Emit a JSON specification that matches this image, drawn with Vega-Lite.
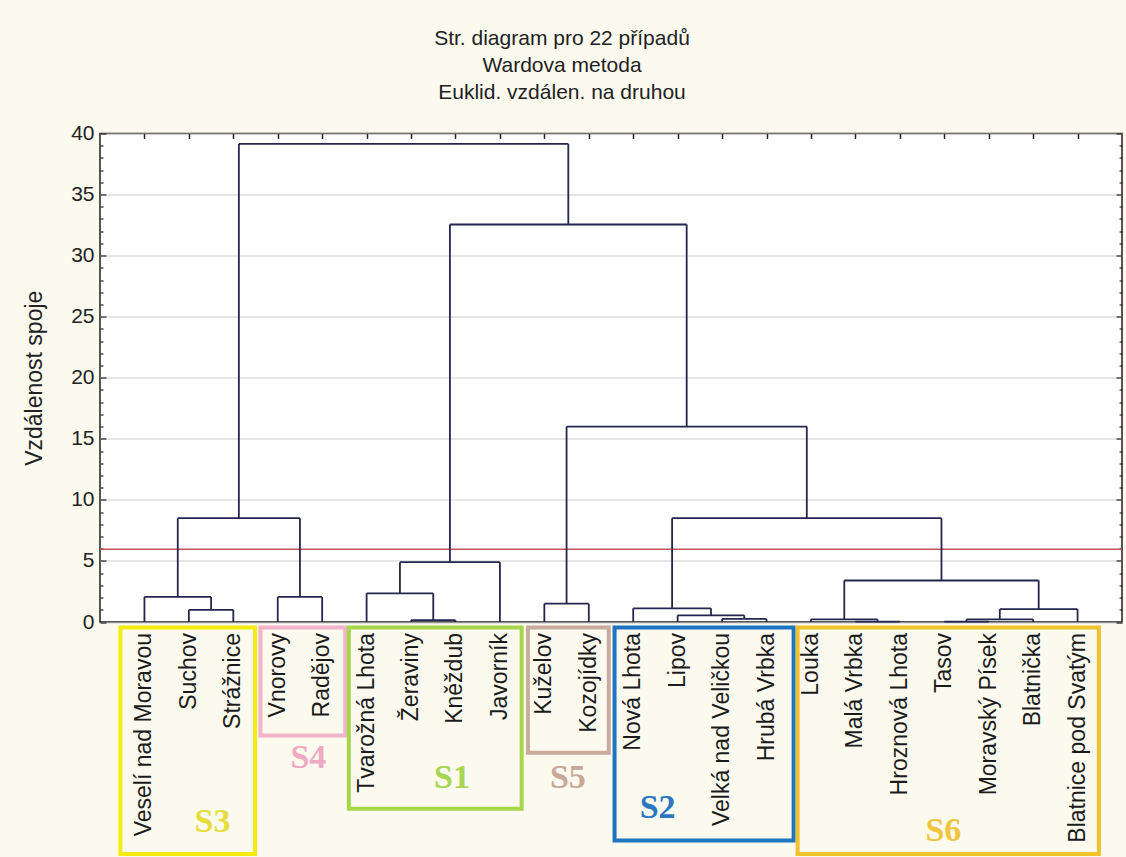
{
  "$schema": "https://vega.github.io/schema/vega-lite/v6.json",
  "width": 1022,
  "height": 488.5,
  "autosize": {"type": "none"},
  "padding": {"left": 100, "top": 133.5, "right": 4, "bottom": 235},
  "background": "#fcf9ee",
  "view": {"fill": "white", "stroke": "#1e1e1e", "strokeWidth": 1.5},
  "title": {
    "text": ["Str. diagram pro 22 případů", "Wardova metoda", "Euklid. vzdálen. na druhou"],
    "fontSize": 21, "font": "Liberation Sans", "fontWeight": "normal", "lineHeight": 27,
    "color": "#222222", "anchor": "middle", "dx": -49, "offset": 20
  },
  "datasets": {
    "cut": [{"h": 5.95}],
    "merges": [
      {"xl": 1, "xr": 2, "h": 1.0, "hl": 0, "hr": 0},
      {"xl": 0, "xr": 1.5, "h": 2.05, "hl": 0, "hr": 1.0},
      {"xl": 3, "xr": 4, "h": 2.05, "hl": 0, "hr": 0},
      {"xl": 0.75, "xr": 3.5, "h": 8.5, "hl": 2.05, "hr": 2.05},
      {"xl": 6, "xr": 7, "h": 0.15, "hl": 0, "hr": 0},
      {"xl": 5, "xr": 6.5, "h": 2.35, "hl": 0, "hr": 0.15},
      {"xl": 5.75, "xr": 8, "h": 4.9, "hl": 2.35, "hr": 0},
      {"xl": 9, "xr": 10, "h": 1.5, "hl": 0, "hr": 0},
      {"xl": 13, "xr": 14, "h": 0.25, "hl": 0, "hr": 0},
      {"xl": 12, "xr": 13.5, "h": 0.55, "hl": 0, "hr": 0.25},
      {"xl": 11, "xr": 12.75, "h": 1.12, "hl": 0, "hr": 0.55},
      {"xl": 16, "xr": 17, "h": 0.03, "hl": 0, "hr": 0},
      {"xl": 15, "xr": 16.5, "h": 0.22, "hl": 0, "hr": 0.03},
      {"xl": 18, "xr": 19, "h": 0.03, "hl": 0, "hr": 0},
      {"xl": 18.5, "xr": 20, "h": 0.22, "hl": 0.03, "hr": 0},
      {"xl": 19.25, "xr": 21, "h": 1.05, "hl": 0.22, "hr": 0},
      {"xl": 15.75, "xr": 20.125, "h": 3.4, "hl": 0.22, "hr": 1.05},
      {"xl": 11.875, "xr": 17.9375, "h": 8.5, "hl": 1.12, "hr": 3.4},
      {"xl": 9.5, "xr": 14.90625, "h": 16.0, "hl": 1.5, "hr": 8.5},
      {"xl": 6.875, "xr": 12.203125, "h": 32.55, "hl": 4.9, "hr": 16.0},
      {"xl": 2.125, "xr": 9.5390625, "h": 39.15, "hl": 8.5, "hr": 32.55}
    ],
    "leaves": [
      {"i": 0, "name": "Veselí nad Moravou"},
      {"i": 1, "name": "Suchov"},
      {"i": 2, "name": "Strážnice"},
      {"i": 3, "name": "Vnorovy"},
      {"i": 4, "name": "Radějov"},
      {"i": 5, "name": "Tvarožná Lhota"},
      {"i": 6, "name": "Žeraviny"},
      {"i": 7, "name": "Kněždub"},
      {"i": 8, "name": "Javorník"},
      {"i": 9, "name": "Kuželov"},
      {"i": 10, "name": "Kozojídky"},
      {"i": 11, "name": "Nová Lhota"},
      {"i": 12, "name": "Lipov"},
      {"i": 13, "name": "Velká nad Veličkou"},
      {"i": 14, "name": "Hrubá Vrbka"},
      {"i": 15, "name": "Louka"},
      {"i": 16, "name": "Malá Vrbka"},
      {"i": 17, "name": "Hroznová Lhota"},
      {"i": 18, "name": "Tasov"},
      {"i": 19, "name": "Moravský Písek"},
      {"i": 20, "name": "Blatnička"},
      {"i": 21, "name": "Blatnice pod Svatým"}
    ],
    "groups": [
      {"group": "S3", "from": -0.54, "to": 2.49, "top": -0.45, "bottom": -19.0, "lx": 1.53, "ly": -16.4},
      {"group": "S4", "from": 2.61, "to": 4.52, "top": -0.45, "bottom": -9.3, "lx": 3.69, "ly": -11.1},
      {"group": "S1", "from": 4.6, "to": 8.49, "top": -0.45, "bottom": -15.3, "lx": 6.92, "ly": -12.8},
      {"group": "S5", "from": 8.63, "to": 10.45, "top": -0.45, "bottom": -10.7, "lx": 9.53, "ly": -12.8},
      {"group": "S2", "from": 10.58, "to": 14.61, "top": -0.45, "bottom": -17.9, "lx": 11.55, "ly": -15.2},
      {"group": "S6", "from": 14.7, "to": 21.48, "top": -0.45, "bottom": -19.0, "lx": 17.98, "ly": -17.1}
    ]
  },
  "layer": [
    {
      "data": {"name": "cut"},
      "mark": {"type": "rule", "color": "#c8505c", "strokeWidth": 1.5},
      "encoding": {
        "y": {
          "field": "h", "type": "quantitative",
          "scale": {"domain": [0, 40], "nice": false, "zero": true},
          "axis": {
            "orient": "left",
            "title": "Vzdálenost spoje",
            "titleFont": "Liberation Sans", "titleFontSize": 23, "titleFontWeight": "normal",
            "titleColor": "#222222", "titlePadding": 24,
            "values": [0,1,2,3,4,5,6,7,8,9,10,11,12,13,14,15,16,17,18,19,20,21,22,23,24,25,26,27,28,29,30,31,32,33,34,35,36,37,38,39,40],
            "labelExpr": "datum.value % 5 === 0 ? datum.label : ''",
            "labelFont": "Liberation Sans", "labelFontSize": 21, "labelColor": "#222222",
            "labelPadding": 12,
            "domain": false,
            "tickColor": "#222222", "tickWidth": 1.2,
            "tickSize": {"condition": {"test": "datum.value % 5 === 0", "value": -6}, "value": -3},
            "grid": true, "gridColor": "#cdcdd2", "gridWidth": 1.2,
            "gridOpacity": {"condition": {"test": "datum.value % 5 === 0", "value": 1}, "value": 0}
          }
        }
      }
    },
    {
      "data": {"name": "merges"},
      "mark": {"type": "rule", "color": "#25254f", "strokeWidth": 1.8},
      "encoding": {
        "x": {
          "field": "xl", "type": "quantitative",
          "scale": {"domain": [-1, 22], "nice": false, "zero": false},
          "axis": {
            "orient": "top", "title": null, "labels": false, "domain": false, "grid": false,
            "values": [0,1,2,3,4,5,6,7,8,9,10,11,12,13,14,15,16,17,18,19,20,21],
            "tickSize": -5, "tickColor": "#222222", "tickWidth": 1.5
          }
        },
        "x2": {"field": "xr"},
        "y": {
          "field": "h", "type": "quantitative",
          "axis": {
            "orient": "right", "title": null, "labels": false, "domain": false, "grid": false,
            "values": [0,1,2,3,4,5,6,7,8,9,10,11,12,13,14,15,16,17,18,19,20,21,22,23,24,25,26,27,28,29,30,31,32,33,34,35,36,37,38,39,40],
            "tickColor": "#222222", "tickWidth": 1.2,
            "tickSize": {"condition": {"test": "datum.value % 5 === 0", "value": -6}, "value": -3}
          }
        }
      }
    },
    {
      "data": {"name": "merges"},
      "mark": {"type": "rule", "color": "#25254f", "strokeWidth": 1.8},
      "encoding": {
        "x": {"field": "xl", "type": "quantitative", "axis": null},
        "y": {"field": "hl", "type": "quantitative", "axis": null},
        "y2": {"field": "h"}
      }
    },
    {
      "data": {"name": "merges"},
      "mark": {"type": "rule", "color": "#25254f", "strokeWidth": 1.8},
      "encoding": {
        "x": {"field": "xr", "type": "quantitative", "axis": null},
        "y": {"field": "hr", "type": "quantitative", "axis": null},
        "y2": {"field": "h"}
      }
    },
    {
      "data": {"name": "leaves"},
      "mark": {"type": "text", "angle": 270, "align": "right", "baseline": "middle", "dx": -11,
               "font": "Liberation Sans", "fontSize": 23, "color": "#1b1b1b"},
      "encoding": {
        "x": {"field": "i", "type": "quantitative", "axis": null},
        "y": {"datum": 0, "type": "quantitative", "axis": null},
        "text": {"field": "name"}
      }
    },
    {
      "data": {"name": "groups"},
      "mark": {"type": "rect", "filled": false, "strokeWidth": 4},
      "encoding": {
        "x": {"field": "from", "type": "quantitative", "axis": null},
        "x2": {"field": "to"},
        "y": {"field": "top", "type": "quantitative", "axis": null},
        "y2": {"field": "bottom"},
        "stroke": {
          "field": "group", "type": "nominal", "legend": null,
          "scale": {"domain": ["S1","S2","S3","S4","S5","S6"],
                    "range": ["#a6d64c","#1e74c0","#f4ec10","#f2b4c8","#c9ab9d","#f0c22c"]}
        }
      }
    },
    {
      "data": {"name": "groups"},
      "mark": {"type": "text", "font": "Liberation Serif", "fontWeight": "bold", "fontSize": 34,
               "align": "center", "baseline": "middle"},
      "encoding": {
        "x": {"field": "lx", "type": "quantitative", "axis": null},
        "y": {"field": "ly", "type": "quantitative", "axis": null},
        "text": {"field": "group"},
        "color": {
          "field": "group", "type": "nominal", "legend": null,
          "scale": {"domain": ["S1","S2","S3","S4","S5","S6"],
                    "range": ["#a8d654","#2a78c2","#e6de3c","#f0a9c2","#c8a898","#eec63e"]}
        }
      }
    }
  ],
  "resolve": {"axis": {"x": "independent", "y": "independent"}}
}
